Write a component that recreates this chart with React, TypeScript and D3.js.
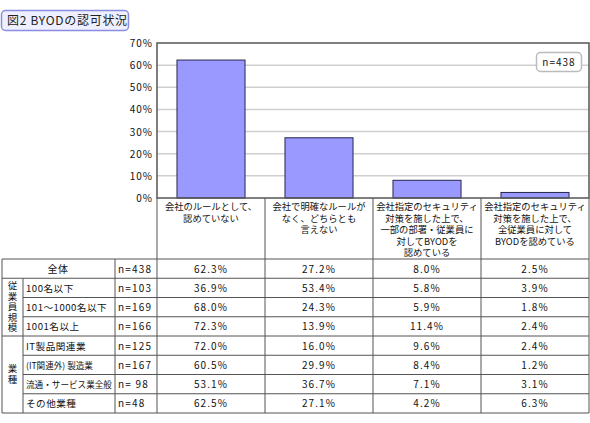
import * as d3 from 'd3';

// chart categories (label lines under each bar)
const categories: string[][] = [
  ['会社のルールとして、', '認めていない'],
  ['会社で明確なルールが', 'なく、どちらとも', '言えない'],
  ['会社指定のセキュリティ', '対策を施した上で、', '一部の部署・従業員に', '対してBYODを', '認めている'],
  ['会社指定のセキュリティ', '対策を施した上で、', '全従業員に対して', 'BYODを認めている'],
];
const yTicks = [0, 10, 20, 30, 40, 50, 60, 70];

// table rows
const rowLabels = ['全体', '100名以下', '101〜1000名以下', '1001名以上', 'IT製品関連業', '(IT関連外) 製造業', '流通・サービス業全般', 'その他業種'];
const nValues = ['438', '103', '169', '166', '125', '167', ' 98', '48'];
const col1 = [62.3, 36.9, 68.0, 72.3, 72.0, 60.5, 53.1, 62.5];
const col2 = [27.2, 53.4, 24.3, 13.9, 16.0, 29.9, 36.7, 27.1];
const col3 = [8.0, 5.8, 5.9, 11.4, 9.6, 8.4, 7.1, 4.2];
const col4 = [2.5, 3.9, 1.8, 2.4, 2.4, 1.2, 3.1, 6.3];
const groups = [
  { label: '従業員規模', from: 1, to: 4 },
  { label: '業種', from: 4, to: 8 },
];

const FONT = '"Noto Sans CJK JP", sans-serif';

export default function App() {
  const width = 590;
  const height = 423;
  const plot = { left: 157, right: 589, top: 43, bottom: 198 };
  const tableTop = 259;
  const rowH = 19.25;
  const columns = [col1, col2, col3, col4];

  const x = d3.scaleBand<number>()
    .domain(categories.map((_, i) => i))
    .range([plot.left, plot.right])
    .padding(0);
  const y = d3.scaleLinear().domain([0, 70]).range([plot.bottom, plot.top]);
  const rowY = d3.scaleLinear().domain([0, rowLabels.length]).range([tableTop, tableTop + rowH * rowLabels.length]);
  const barW = x.bandwidth() * 0.63;
  const overall = columns.map(c => c[0]);

  const colEdges = [plot.left, ...categories.map((_, i) => (x(i) || 0) + x.bandwidth())];

  // long all-kanji labels need a smaller size to fit the cell
  const labelSize = (l: string) => (l.length > 9 && !/\d/.test(l) ? 8.6 : 9.6);

  return (
    <div style={{ position: 'absolute', left: 0, top: 0 }}>
      <svg width={width} height={height} style={{ display: 'block', fontFamily: FONT }}>
        <rect width={width} height={height} fill="#fff" />

        {/* title */}
        <rect x={1.5} y={10.5} width={127} height={20} rx={4} fill="#eef0ff" stroke="#8c8ce0" strokeWidth={1.5} />
        <text x={7} y={25} fontSize={12} fill="#222" letterSpacing={0.7}>図2 BYODの認可状況</text>

        {/* gridlines */}
        {yTicks.slice(1, -1).map(t => (
          <line key={t} x1={plot.left} x2={plot.right} y1={y(t)} y2={y(t)} stroke="#cfcfcf" strokeWidth={1.5} />
        ))}
        {yTicks.map(t => (
          <text key={t} x={153} y={y(t) + 4} fontSize={10} textAnchor="end" fill="#111" letterSpacing={1}>{t}%</text>
        ))}

        {/* bars */}
        {overall.map((v, i) => (
          <rect key={i} x={(x(i) || 0) + (x.bandwidth() - barW) / 2} y={y(v)} width={barW}
            height={y(0) - y(v)} fill="#9999ff" stroke="#26264d" strokeWidth={1} />
        ))}

        <rect x={plot.left} y={plot.top} width={plot.right - plot.left} height={plot.bottom - plot.top}
          fill="none" stroke="#555" strokeWidth={1.5} />

        {/* legend */}
        <rect x={536.5} y={52.5} width={45} height={19} rx={4} fill="#fff" stroke="#bbb" strokeWidth={1.5} />
        <text x={559} y={66} fontSize={10} textAnchor="middle" fill="#111" letterSpacing={1}>n=438</text>

        {/* category label cells */}
        {colEdges.map((cx, i) => (
          <line key={i} x1={cx} x2={cx} y1={plot.bottom} y2={tableTop} stroke="#555" strokeWidth={1} />
        ))}
        {categories.map((lines, i) => (
          <text key={i} fontSize={9.3} textAnchor="middle" fill="#111">
            {lines.map((l, j) => (
              <tspan key={j} x={(x(i) || 0) + x.bandwidth() / 2} y={210 + j * 11.6}>{l}</tspan>
            ))}
          </text>
        ))}

        {/* table */}
        {d3.range(rowLabels.length + 1).map(r => {
          const inGroup = groups.some(g => r > g.from && r < g.to);
          return (
            <line key={r} x1={inGroup ? 23 : 2} x2={plot.right} y1={rowY(r)} y2={rowY(r)} stroke="#555" strokeWidth={1} />
          );
        })}
        <line x1={2} x2={2} y1={tableTop} y2={rowY(rowLabels.length)} stroke="#555" />
        <line x1={23} x2={23} y1={rowY(1)} y2={rowY(rowLabels.length)} stroke="#555" />
        {[115, ...colEdges].map((cx, i) => (
          <line key={i} x1={cx} x2={cx} y1={tableTop} y2={rowY(rowLabels.length)} stroke="#555" />
        ))}

        {groups.map((g, i) => (
          <text key={i} x={12.5} y={(rowY(g.from) + rowY(g.to)) / 2} fontSize={9.5} fill="#111"
            textAnchor="middle" letterSpacing={1.1} style={{ writingMode: 'vertical-rl' }}>{g.label}</text>
        ))}

        {rowLabels.map((l, r) => (
          <g key={r} fontSize={10} fill="#111">
            {r === 0
              ? <text x={58} y={rowY(r) + rowH / 2 + 4} textAnchor="middle" letterSpacing={0.6}>{l}</text>
              : <text x={26} y={rowY(r) + rowH / 2 + 4} fontSize={labelSize(l)}
                  letterSpacing={labelSize(l) < 9 ? 0 : 0.5}>{l}</text>}
            <text x={118} y={rowY(r) + rowH / 2 + 4} letterSpacing={1.2} style={{ whiteSpace: 'pre' }}>n={nValues[r]}</text>
            {columns.map((c, ci) => (
              <text key={ci} x={(x(ci) || 0) + x.bandwidth() / 2} y={rowY(r) + rowH / 2 + 4}
                textAnchor="middle" letterSpacing={1.1}>{c[r].toFixed(1)}%</text>
            ))}
          </g>
        ))}
      </svg>
    </div>
  );
}
